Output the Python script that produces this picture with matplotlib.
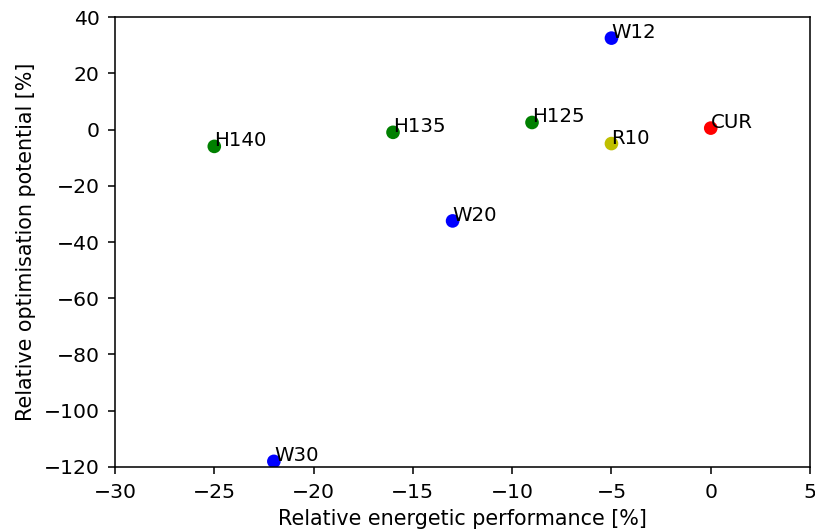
import matplotlib
matplotlib.use("Agg")
import matplotlib.pyplot as plt

labels = ["W12", "W20", "W30", "H125", "H135", "H140", "R10", "CUR"]
perf = [-5, -13, -22, -9, -16, -25, -5, 0]
optim = [32.5, -32.5, -118, 2.5, -1, -6, -5, 0.5]
colors = ["b", "b", "b", "g", "g", "g", "y", "r"]

DPI = 140
fig = plt.figure(figsize=(815 / DPI, 532 / DPI), dpi=DPI)
ax = fig.add_axes([0.1411, 0.1222, 0.8528, 0.8458])
ax.scatter(perf, optim, c=colors, zorder=2)
for lab, x, y in zip(labels, perf, optim):
    ax.annotate(lab, (x, y), fontsize=10.2)
ax.set_xlim(-30, 5)
ax.set_ylim(-120, 40)
ax.tick_params(labelsize=10.5, pad=4.5)
ax.set_xlabel("Relative energetic performance [%]", fontsize=10.6)
ax.set_ylabel("Relative optimisation potential [%]", fontsize=10.6)
fig.savefig("out.png", dpi=DPI)
